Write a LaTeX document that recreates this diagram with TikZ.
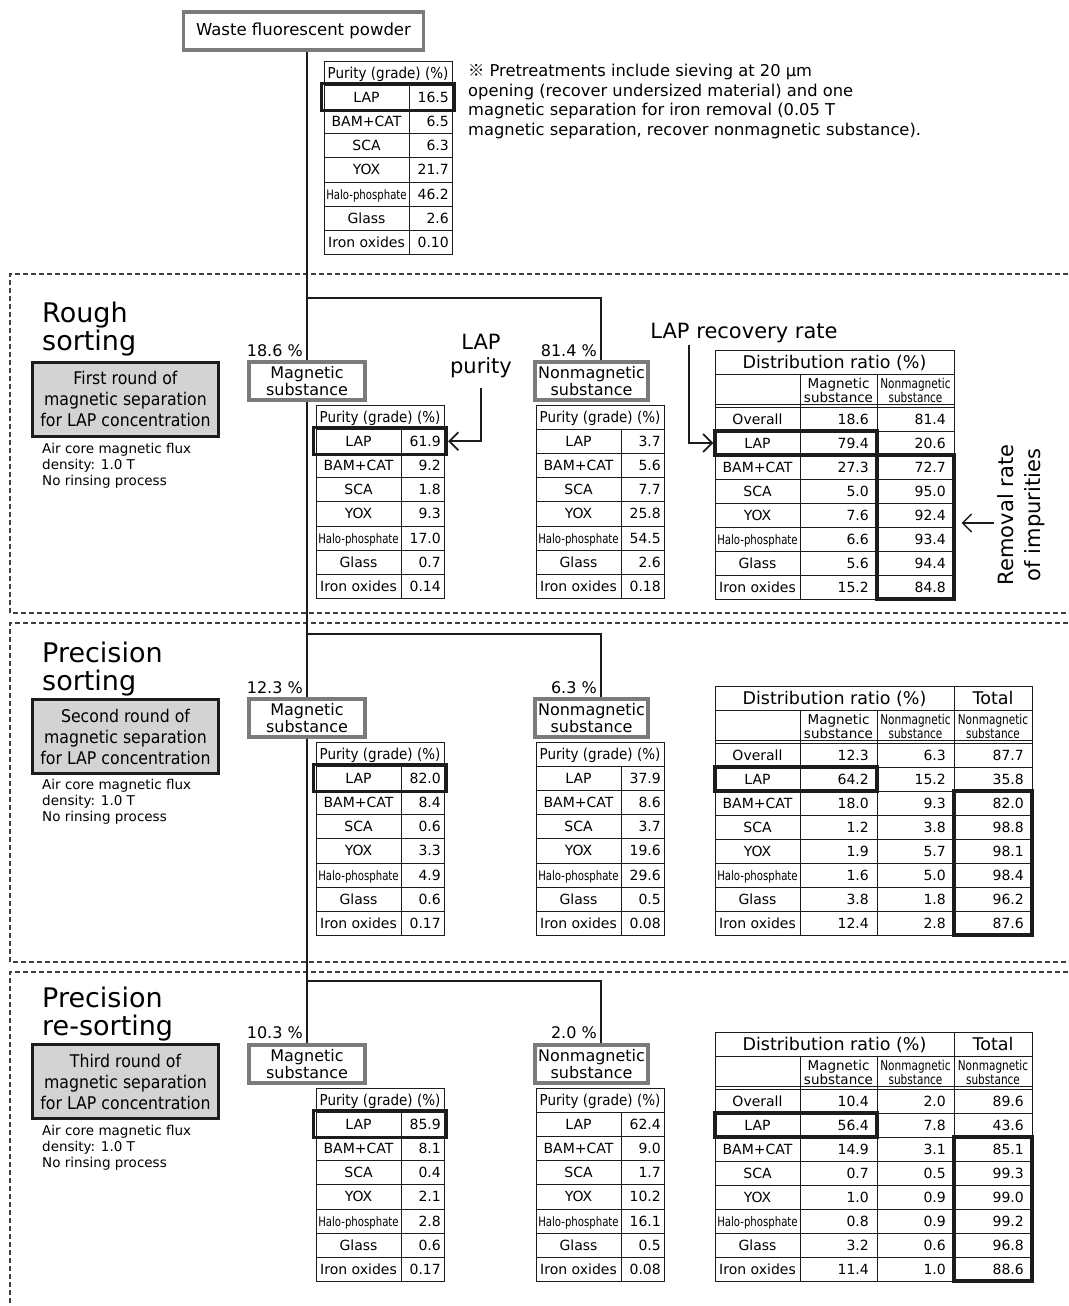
\documentclass[tikz,border=0pt]{standalone}
\usepackage{fontspec}
\setmainfont{DejaVu Sans}
\newfontfamily\condfont[FakeStretch=0.9]{DejaVu Sans}
\newfontfamily\slimfont[FakeStretch=0.78]{DejaVu Sans}
\newfontfamily\cjk{Noto Sans CJK JP}
\usepackage{xcolor}
\definecolor{ink}{HTML}{1C1C1C}
\definecolor{frame}{HTML}{7B7B7B}
\definecolor{shade}{HTML}{D3D3D3}
\usepackage{tikz}
\usetikzlibrary{arrows.meta}
\newcommand\fs[2]{\fontsize{#1}{#2}\selectfont}
\newcommand\rowlabel[1]{\ifcase#1 Overall\or LAP\or BAM+CAT\or SCA\or YOX\or
  {\slimfont\fs{13}{15}Halo-phosphate}\or Glass\or Iron oxides\fi}
\tikzset{
  tabline/.style={draw=ink, line width=0.9pt},
  cell/.style={font=\fs{14}{16}, inner sep=0pt, anchor=base},
  num/.style={font=\fs{14}{16}, inner sep=0pt, anchor=base east},
  headcell/.style={font=\condfont\fs{15}{17}, inner sep=0pt, anchor=base},
  bighead/.style={font=\fs{17.5}{20}, inner sep=0pt, anchor=base},
  subcell/.style={font=\fs{13.5}{12.5}, inner sep=0pt, align=center},
  slimsub/.style={subcell, font=\slimfont\fs{13.5}{12.5}},
  hilite/.style={draw=ink, line width=3.2pt, inner sep=0pt},
  subst/.style={draw=frame, line width=3.5pt, fill=white, inner sep=0pt, align=center, font=\fs{16}{14.5}, minimum height=38pt},
  roundbox/.style={draw=ink, line width=3pt, fill=shade, align=center, font=\condfont\fs{17.5}{21}, minimum width=186pt, minimum height=74pt, inner sep=0pt},
  stage/.style={font=\fs{27}{28}, align=left, anchor=north west, inner sep=0pt},
  note/.style={font=\fs{13.5}{16}, align=left, anchor=north west, inner sep=0pt},
  pct/.style={font=\fs{16}{18}, anchor=base east, inner sep=0pt},
  callout/.style={font=\fs{21}{24}, align=center, inner sep=0pt},
  trunk/.style={draw=ink, line width=2.4pt},
  arrow/.style={draw=ink, line width=1.8pt, -{Straight Barb[length=9pt, width=18pt]}},
  thinarrow/.style={arrow, line width=1.4pt},
  sectionline/.style={draw=ink!85, line width=2pt, dash pattern=on 5pt off 3pt},
}
% purity table: name, left, top, values
\newcommand\puritytable[4]{%
  \draw[tabline] (#2,#3) rectangle (#2+128,#3+24.2);
  \node[headcell] (#1-h) at (#2+64,#3+17.6) {Purity (grade) (\%)};
  \foreach \v [count=\i] in {#4}{
    \pgfmathsetmacro\rowy{#3+24.2*\i}
    \draw[tabline] (#2,\rowy) rectangle (#2+85,\rowy+24.2) (#2+85,\rowy) rectangle (#2+128,\rowy+24.2);
    \node[cell] (#1-l\i) at (#2+42.5,\rowy+17.1) {\rowlabel{\i}};
    \node[num] (#1-v\i) at (#2+125,\rowy+17.1) {\v};
  }
}
\newcommand\lapmark[3]{\node[hilite, minimum width=133pt, minimum height=27pt] (#1-lap) at (#2+64,#3+36.3) {};}
% distribution table: name, top, columns (3 or 4), rows
\newcommand\disttable[4]{%
  \def\dright{954}\ifnum#3=4 \def\dright{1032}\fi
  \draw[tabline] (715,#2) rectangle (954,#2+24) (715,#2+24) rectangle (800,#2+57)
    (800,#2+24) rectangle (877,#2+57) (877,#2+24) rectangle (954,#2+57);
  \draw[tabline] (715,#2+54.8) -- (\dright,#2+54.8);
  \node[bighead] (#1-h) at (834.5,#2+18.4) {Distribution ratio (\%)};
  \node[subcell] (#1-sm) at (838.5,#2+40.5) {Magnetic\\substance};
  \node[slimsub] (#1-sn) at (915.5,#2+40.5) {Nonmagnetic\\substance};
  \ifnum#3=4
    \draw[tabline] (954,#2) rectangle (1032,#2+24) (954,#2+24) rectangle (1032,#2+57);
    \node[bighead] (#1-th) at (993,#2+18.4) {Total};
    \node[slimsub] (#1-st) at (993,#2+40.5) {Nonmagnetic\\substance};
  \fi
  \foreach \a/\b/\c [count=\i from 0] in {#4}{
    \pgfmathsetmacro\rowy{#2+57+24*\i}
    \draw[tabline] (715,\rowy) rectangle (800,\rowy+24) (800,\rowy) rectangle (877,\rowy+24)
      (877,\rowy) rectangle (954,\rowy+24);
    \node[cell] (#1-l\i) at (757.5,\rowy+17) {\rowlabel{\i}};
    \node[num] (#1-a\i) at (869,\rowy+17) {\a};
    \node[num] (#1-b\i) at (946,\rowy+17) {\b};
    \ifnum#3=4
      \draw[tabline] (954,\rowy) rectangle (1032,\rowy+24);
      \node[num] (#1-c\i) at (1024,\rowy+17) {\c};
    \fi
  }
  \node[hilite, minimum width=162pt, minimum height=24pt] (#1-lap) at (796,#2+93) {};
  \ifnum#3=4
    \node[hilite, minimum width=78pt, minimum height=144pt] (#1-rem) at (993,#2+177) {};
  \else
    \node[hilite, minimum width=77pt, minimum height=144pt] (#1-rem) at (915.5,#2+177) {};
  \fi
}

\begin{document}
\begin{tikzpicture}[x=1pt, y=-1pt]
  \useasboundingbox (0,0) rectangle (1068,1306);
  % stage frames
  \draw[sectionline] (1068,274) -- (10,274) -- (10,613) -- (1068,613);
  \draw[sectionline] (1068,623) -- (10,623) -- (10,962) -- (1068,962);
  \draw[sectionline] (1068,972) -- (10,972) -- (10,1306);

  % feed
  \node[subst, minimum width=240pt, font=\fs{16.5}{18}] (wfp) at (303.5,31) {Waste fluorescent powder};
  \puritytable{feed}{324}{61}{16.5,6.5,6.3,21.7,46.2,2.6,0.10}
  \lapmark{feed}{324}{61}
  \node[anchor=north west, align=left, inner sep=0pt, font=\fs{16.3}{19.5}] (pre) at (468,64)
    {{\cjk ※} Pretreatments include sieving at 20 µm\\opening (recover undersized material) and one\\magnetic separation for iron removal (0.05 T\\magnetic separation, recover nonmagnetic substance).};

  % rough sorting
  \node[stage] (st1) at (42,302) {Rough\\sorting};
  \node[roundbox] (r1) at (125.5,399) {First round of\\magnetic separation\\for LAP concentration};
  \node[note] (c1) at (42,443) {Air core magnetic flux\\density: 1.0 T\\No rinsing process};
  \node[subst, minimum width=116pt] (m1) at (307,381) {Magnetic\\substance};
  \node[subst, minimum width=113pt] (n1) at (591.5,381) {Nonmagnetic\\substance};
  \node[pct] (m1p) at (303,356) {18.6 \%};
  \node[pct] (n1p) at (597,356) {81.4 \%};
  \puritytable{m1t}{316}{405}{61.9,9.2,1.8,9.3,17.0,0.7,0.14}
  \lapmark{m1t}{316}{405}
  \puritytable{n1t}{536}{405}{3.7,5.6,7.7,25.8,54.5,2.6,0.18}
  \disttable{d1}{350}{3}{18.6/81.4/-, 79.4/20.6/-, 27.3/72.7/-, 5.0/95.0/-, 7.6/92.4/-, 6.6/93.4/-, 5.6/94.4/-, 15.2/84.8/-}
  \node[callout] (lappur) at (481,356) {LAP\\purity};
  \node[callout, anchor=base] (laprec) at (744,338) {LAP recovery rate};
  \node[callout, rotate=90, font=\fs{21}{27}] (remrate) at (1021,515) {Removal rate\\of impurities};
  \draw[arrow] ([yshift=-10pt]lappur.south) |- (m1t-lap.east);
  \draw[arrow] ([xshift=39pt,yshift=-2pt]laprec.south west) |- (d1-lap.west);
  \draw[thinarrow] ([xshift=-3pt,yshift=-8pt]remrate.north) -- ([xshift=6pt,yshift=-8pt]remrate.north -| d1-rem.east);
  \coordinate (j1) at (307,298);
  \draw[trunk] (wfp.south -| m1) -- (m1.north);
  \draw[trunk] (j1) -| ([xshift=9.5pt]n1.north);

  % precision sorting
  \node[stage] (st2) at (42,642) {Precision\\sorting};
  \node[roundbox] (r2) at (125.5,736.5) {Second round of\\magnetic separation\\for LAP concentration};
  \node[note] (c2) at (42,779) {Air core magnetic flux\\density: 1.0 T\\No rinsing process};
  \node[subst, minimum width=116pt] (m2) at (307,718) {Magnetic\\substance};
  \node[subst, minimum width=113pt] (n2) at (591.5,718) {Nonmagnetic\\substance};
  \node[pct] (m2p) at (303,693) {12.3 \%};
  \node[pct] (n2p) at (597,693) {6.3 \%};
  \puritytable{m2t}{316}{742}{82.0,8.4,0.6,3.3,4.9,0.6,0.17}
  \lapmark{m2t}{316}{742}
  \puritytable{n2t}{536}{742}{37.9,8.6,3.7,19.6,29.6,0.5,0.08}
  \disttable{d2}{686}{4}{12.3/6.3/87.7, 64.2/15.2/35.8, 18.0/9.3/82.0, 1.2/3.8/98.8, 1.9/5.7/98.1, 1.6/5.0/98.4, 3.8/1.8/96.2, 12.4/2.8/87.6}
  \coordinate (j2) at (307,634);
  \draw[trunk] (m1.south) -- (m2.north);
  \draw[trunk] (j2) -| ([xshift=9.5pt]n2.north);

  % precision re-sorting
  \node[stage] (st3) at (42,987) {Precision\\re-sorting};
  \node[roundbox] (r3) at (125.5,1081.5) {Third round of\\magnetic separation\\for LAP concentration};
  \node[note] (c3) at (42,1125) {Air core magnetic flux\\density: 1.0 T\\No rinsing process};
  \node[subst, minimum width=116pt] (m3) at (307,1064) {Magnetic\\substance};
  \node[subst, minimum width=113pt] (n3) at (591.5,1064) {Nonmagnetic\\substance};
  \node[pct] (m3p) at (303,1038) {10.3 \%};
  \node[pct] (n3p) at (597,1038) {2.0 \%};
  \puritytable{m3t}{316}{1088}{85.9,8.1,0.4,2.1,2.8,0.6,0.17}
  \lapmark{m3t}{316}{1088}
  \puritytable{n3t}{536}{1088}{62.4,9.0,1.7,10.2,16.1,0.5,0.08}
  \disttable{d3}{1032}{4}{10.4/2.0/89.6, 56.4/7.8/43.6, 14.9/3.1/85.1, 0.7/0.5/99.3, 1.0/0.9/99.0, 0.8/0.9/99.2, 3.2/0.6/96.8, 11.4/1.0/88.6}
  \coordinate (j3) at (307,981);
  \draw[trunk] (m2.south) -- (m3.north);
  \draw[trunk] (j3) -| ([xshift=9.5pt]n3.north);
\end{tikzpicture}
\end{document}
